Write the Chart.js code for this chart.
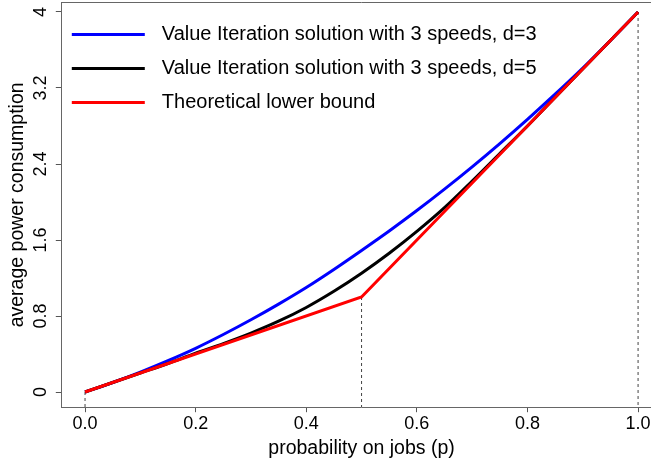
<!DOCTYPE html>
<html>
<head>
<meta charset="utf-8">
<script src="https://cdn.jsdelivr.net/npm/chart.js@4"></script>
<style>
  html, body { margin: 0; padding: 0; background: #fff; overflow: hidden; }
  #wrap { width: 680px; height: 465px; }
</style>
</head>
<body>
<div id="wrap"><canvas id="powerChart" width="680" height="465"></canvas></div>
<script>
// probability grid and curves
const probs = [0, 0.05, 0.1, 0.15, 0.2, 0.25, 0.3, 0.35, 0.4, 0.45, 0.5,
               0.55, 0.6, 0.65, 0.7, 0.75, 0.8, 0.85, 0.9, 0.95, 1];
const viD3 = [0, 0.10, 0.21, 0.33, 0.46, 0.605, 0.76, 0.925, 1.10, 1.29, 1.49,
              1.695, 1.91, 2.135, 2.37, 2.615, 2.87, 3.135, 3.41, 3.70, 4.00];
const viD5 = [0, 0.10, 0.20, 0.30, 0.41, 0.51, 0.62, 0.745, 0.89, 1.06, 1.25,
              1.46, 1.69, 1.94, 2.22, 2.51, 2.80, 3.10, 3.40, 3.70, 4.00];
const boundP = [0, 0.5, 1];
const boundVals = [0, 1, 4];

// dotted drop lines
const dropP = [0, 0.5, 1];
const dropTop = [0, 1, 4];

const seriesNames = [
    'Value Iteration solution with 3 speeds, d=3',
    'Value Iteration solution with 3 speeds, d=5',
    'Theoretical lower bound'
];
const seriesColors = ['#0000ff', '#000000', '#ff0000'];

const xTicks = [0, 0.2, 0.4, 0.6, 0.8, 1];
const xTickLabels = ['0.0', '0.2', '0.4', '0.6', '0.8', '1.0'];
const yTicks = [0, 0.8, 1.6, 2.4, 3.2, 4];
const yTickLabels = ['0', '0.8', '1.6', '2.4', '3.2', '4'];

const xMin = -0.042, xMax = 1.042;
const yMin = -0.16, yMax = 4.1;

Chart.defaults.font.family = '"Liberation Sans", Arial, sans-serif';
Chart.defaults.color = '#000';

const toPoints = (xs, ys) => xs.map((x, i) => ({ x: x, y: ys[i] }));

const curve = (i, xs, ys, order, smooth) => ({
    label: seriesNames[i],
    data: toPoints(xs, ys),
    borderColor: seriesColors[i],
    borderWidth: 3,
    pointRadius: 0,
    fill: false,
    cubicInterpolationMode: smooth ? 'monotone' : 'default',
    order: order,
});

const drops = dropP.map((p, i) => ({
    label: 'drop' + i,
    data: [{ x: p, y: dropTop[i] }, { x: p, y: yMin }],
    borderColor: '#444',
    borderWidth: 1,
    borderDash: [3, 3],
    pointRadius: 0,
    order: 10,
}));

// no extra room for overhanging tick labels
const noPad = (s) => {
    s.paddingTop = 0; s.paddingBottom = 0;
    s.paddingLeft = 0; s.paddingRight = 0;
};

// legend lines + top frame edge
const boxLegend = {
    id: 'boxLegend',
    afterDatasetsDraw(chart) {
        const ctx = chart.ctx;
        const a = chart.chartArea;
        ctx.save();
        ctx.strokeStyle = '#666';
        ctx.lineWidth = 1;
        ctx.beginPath();
        ctx.moveTo(a.left, a.top);
        ctx.lineTo(a.right, a.top);
        ctx.stroke();

        ctx.font = '20px "Liberation Sans", Arial, sans-serif';
        ctx.textBaseline = 'middle';
        ctx.fillStyle = '#000';
        for (let i = 0; i < seriesNames.length; i++) {
            const y = a.top + 32 + i * 34;
            ctx.strokeStyle = seriesColors[i];
            ctx.lineWidth = 3;
            ctx.beginPath();
            ctx.moveTo(a.left + 10, y);
            ctx.lineTo(a.left + 83, y);
            ctx.stroke();
            ctx.fillText(seriesNames[i], a.left + 100, y);
        }
        ctx.restore();
    }
};

new Chart(document.getElementById('powerChart'), {
    type: 'line',
    data: {
        datasets: [
            curve(0, probs, viD3, 3, true),
            curve(1, probs, viD5, 2, true),
            curve(2, boundP, boundVals, 1, false),
            ...drops
        ]
    },
    options: {
        responsive: false,
        animation: false,
        layout: { padding: { left: 0, top: 2.5, right: 18.7, bottom: 0 } },
        plugins: {
            legend: { display: false },
            tooltip: { enabled: false },
        },
        scales: {
            x: {
                type: 'linear',
                min: xMin,
                max: xMax,
                afterFit: (s) => { s.height = 57.8; noPad(s); },
                afterBuildTicks: (s) => { s.ticks = xTicks.map(v => ({ value: v })); },
                ticks: {
                    autoSkip: false,
                    maxRotation: 0,
                    padding: 1,
                    font: { size: 18 },
                    color: '#000',
                    callback: (v, i) => xTickLabels[i],
                },
                grid: { drawOnChartArea: false, tickLength: 5, color: '#555' },
                border: { color: '#666', width: 1 },
                title: {
                    display: true,
                    text: 'probability on jobs (p)',
                    font: { size: 19.5 },
                    color: '#000',
                    padding: { top: 0, bottom: 5 },
                },
            },
            y: {
                type: 'linear',
                min: yMin,
                max: yMax,
                afterFit: (s) => { s.width = 61.8; noPad(s); },
                afterBuildTicks: (s) => { s.ticks = yTicks.map(v => ({ value: v })); },
                ticks: {
                    autoSkip: false,
                    minRotation: 90,
                    maxRotation: 90,
                    crossAlign: 'center',
                    padding: 2,
                    font: { size: 18 },
                    color: '#000',
                    callback: (v, i) => yTickLabels[i],
                },
                grid: { drawOnChartArea: false, tickLength: 6, color: '#555' },
                border: { color: '#666', width: 1 },
                title: {
                    display: true,
                    text: 'average power consumption',
                    font: { size: 19.5 },
                    color: '#000',
                    padding: { top: 6, bottom: 0 },
                },
            },
        },
    },
    plugins: [boxLegend],
});
</script>
</body>
</html>
